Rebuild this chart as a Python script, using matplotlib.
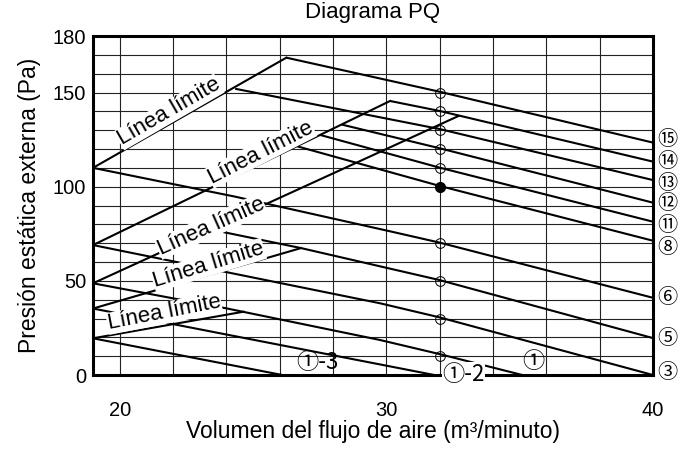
import matplotlib
matplotlib.use('Agg')
import matplotlib.pyplot as plt

plt.rcParams['font.family'] = ['Liberation Sans', 'DejaVu Sans']

# fan curves (airflow m3/min, pressure Pa)
curve_names = ['⑮', '⑭', '⑬', '⑫', '⑪', '⑧', '⑥', '⑤', '③', '①', '①-2', '①-3']
curve_x = [
    [26.25, 32, 40],
    [30.14, 32, 40],
    [24.33, 32, 40],
    [28.32, 32, 40],
    [27.51, 32, 40],
    [26.64, 32, 40],
    [19, 24.33, 30.14, 32, 40],
    [23.4, 26.8, 32, 40],
    [19, 29.76, 32, 40],
    [19, 24, 29.76, 32, 35.1],
    [19, 31.8],
    [19, 26.1],
]
curve_y = [
    [168.5, 150.4, 123.4],
    [145.5, 140.2, 113.3],
    [152, 130.6, 103.5],
    [133, 120.4, 91.5],
    [127.5, 110.1, 81.4],
    [121.5, 100.4, 71.3],
    [110, 94.7, 76.3, 70.3, 41],
    [77.3, 67.4, 50.4, 19.6],
    [69, 38.1, 30.6, 0],
    [48.7, 35.4, 18.6, 11.1, 0],
    [35.3, 0],
    [19.5, 0],
]
# names printed at the right edge
right_names = ['⑮', '⑭', '⑬', '⑫', '⑪', '⑧', '⑥', '⑤', '③']
right_shift = [1.4, 0, -2.0, -0.4, -2.0, -3.4, 0, 0, 1.6]

# limit lines
limit_x = [[19, 26.25], [19, 30.14], [19, 32.7], [19, 26.8], [19, 24.64]]
limit_y = [[110, 168.5], [69, 145.5], [48.7, 137.5], [35.3, 67.4], [19.5, 33.6]]
limit_label_x = [21.85, 25.29, 23.42, 23.33, 21.67]
limit_label_y = [139.7, 118.1, 79.0, 58.4, 32.9]
limit_label_rot = [30, 27, 24, 17, 11]

# marked points at rated airflow
point_x = 32
point_y = [150, 140, 130, 120, 110, 100, 70, 50, 30, 10]
filled_y = 100

fig = plt.figure(figsize=(6.8, 4.57), dpi=100)
ax = fig.add_axes([0.1368, 0.1794, 0.8235, 0.7418])
ax.set_xlim(19, 40)
ax.set_ylim(0, 180)

ax.set_xticks([20, 30, 40])
ax.set_xticks(range(20, 40, 2), minor=True)
ax.set_yticks([0, 50, 100, 150, 180])
ax.set_yticks(range(10, 180, 10), minor=True)
ax.grid(True, which='both', color='#222222', linewidth=0.8)
ax.set_axisbelow(True)
ax.tick_params(which='both', length=0, labelsize=14.5)
ax.tick_params(axis='x', pad=19)
ax.tick_params(axis='y', pad=5)
for s in ax.spines.values():
    s.set_linewidth(2.2)

for xs, ys in zip(curve_x, curve_y):
    ax.plot(xs, ys, color='black', lw=1.5, solid_capstyle='butt', zorder=3)
for xs, ys in zip(limit_x, limit_y):
    ax.plot(xs, ys, color='black', lw=1.5, zorder=3)

for py in point_y:
    if py == filled_y:
        ax.plot(point_x, py, 'o', ms=7, color='black', zorder=4)
    else:
        ax.plot(point_x, py, 'o', ms=7, mfc='none', mec='black', mew=0.7, zorder=4)

for lx, ly, r in zip(limit_label_x, limit_label_y, limit_label_rot):
    ax.text(lx, ly, 'Línea límite', rotation=r, fontsize=16, ha='center', va='center',
            rotation_mode='anchor', zorder=5,
            bbox=dict(facecolor='white', edgecolor='none', pad=0.3))

circ = ['Noto Sans CJK JP', 'DejaVu Sans']
for name, sh in zip(right_names, right_shift):
    i = curve_names.index(name)
    ax.text(40.55, curve_y[i][-1] + sh, name, fontsize=14.5, family=circ,
            ha='center', va='center', clip_on=False, zorder=5)

ax.text(27.4, 6.5, '①-3', fontsize=16, family=circ, ha='center', va='center', zorder=5)
ax.text(32.9, 0.5, '①-2', fontsize=16, family=circ, ha='center', va='center', zorder=5,
        clip_on=False, bbox=dict(facecolor='white', edgecolor='none', pad=0.3))
ax.text(35.5, 7, '①', fontsize=16, family=circ, ha='center', va='center', zorder=5)

ax.set_title('Diagrama PQ', fontsize=16, pad=13)
ax.set_xlabel('Volumen del flujo de aire (m³/minuto)', fontsize=16.5, labelpad=0)
ax.set_ylabel('Presión estática externa (Pa)', fontsize=16.5, labelpad=8)

fig.savefig('out.png', dpi=100)
